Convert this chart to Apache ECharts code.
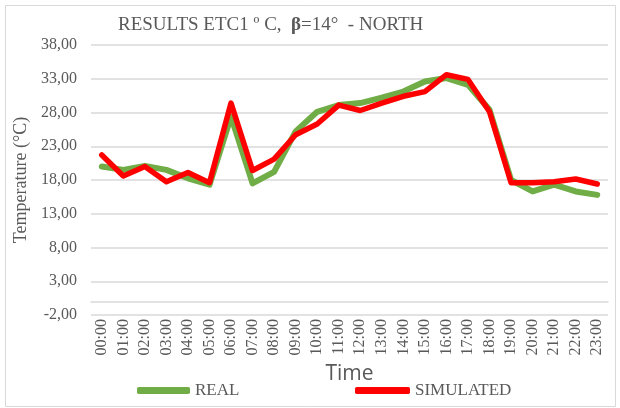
<!DOCTYPE html>
<html>
<head>
<meta charset="utf-8">
<script src="https://cdn.jsdelivr.net/npm/echarts@6/dist/echarts.min.js"></script>
<style>
  html, body { margin: 0; padding: 0; background: #fff; }
  #main { width: 620px; height: 408px; }
</style>
</head>
<body>
<div id="main"></div>
<script>
var hours = ['00:00', '01:00', '02:00', '03:00', '04:00', '05:00', '06:00', '07:00',
  '08:00', '09:00', '10:00', '11:00', '12:00', '13:00', '14:00', '15:00',
  '16:00', '17:00', '18:00', '19:00', '20:00', '21:00', '22:00', '23:00'];
var realTemp = [20.0, 19.5, 20.1, 19.5, 18.25, 17.3, 27.4, 17.5, 19.2, 25.2, 28.1, 29.1,
  29.4, 30.2, 31.1, 32.6, 33.1, 32.1, 28.4, 18.0, 16.3, 17.3, 16.3, 15.8];
var simTemp = [21.7, 18.6, 20.0, 17.75, 19.1, 17.6, 29.4, 19.4, 21.1, 24.7, 26.3, 29.1,
  28.3, 29.4, 30.4, 31.1, 33.6, 32.9, 28.1, 17.6, 17.6, 17.75, 18.15, 17.4];

var chartDom = document.getElementById('main');
var myChart = echarts.init(chartDom);
var serif = '"Liberation Serif", "DejaVu Serif", serif';
var grey = '#595959';
var option;

option = {
    animation: false,
    backgroundColor: '#fff',
    title: {
        text: '{a|RESULTS ETC1 º C,  }{b|β}{a|=14°  - NORTH}',
        left: 113,
        top: 11,
        textStyle: {
            fontWeight: 'normal',
            rich: {
                a: { fontFamily: serif, fontSize: 19, color: grey, fontWeight: 'normal' },
                b: { fontFamily: serif, fontSize: 19, color: grey, fontWeight: 'bold' }
            }
        }
    },
    graphic: [{
        type: 'rect',
        shape: { x: 5.5, y: 5.5, width: 610, height: 401 },
        style: { fill: 'none', stroke: '#d9d9d9', lineWidth: 1 },
        silent: true
    }],
    legend: [{
        data: ['REAL'],
        left: 132,
        top: 377,
        icon: 'roundRect',
        itemWidth: 53,
        itemHeight: 7,
        textStyle: { fontFamily: serif, fontSize: 17, color: grey }
    }, {
        data: ['SIMULATED'],
        left: 350,
        top: 377,
        icon: 'roundRect',
        itemWidth: 55,
        itemHeight: 7,
        textStyle: { fontFamily: serif, fontSize: 17, color: grey }
    }],
    grid: {
        left: 91,
        right: 12,
        top: 45,
        bottom: 93
    },
    xAxis: {
        type: 'category',
        data: hours,
        boundaryGap: true,
        name: 'Time',
        nameLocation: 'middle',
        nameGap: 47,
        nameTextStyle: { fontFamily: '"Open Sans", sans-serif', fontSize: 21, color: grey },
        axisLine: { lineStyle: { color: '#d9d9d9', width: 1.5 } },
        axisTick: { show: false },
        axisLabel: {
            rotate: 90,
            interval: 0,
            margin: 4,
            fontFamily: serif,
            fontSize: 16,
            color: grey
        }
    },
    yAxis: {
        type: 'value',
        min: -2,
        max: 38,
        interval: 5,
        name: 'Temperature (°C)',
        nameLocation: 'middle',
        nameGap: 60,
        nameTextStyle: { fontFamily: serif, fontSize: 18, color: grey },
        axisLine: { show: false },
        axisTick: { show: false },
        splitLine: { lineStyle: { color: '#d9d9d9', width: 1.5 } },
        axisLabel: {
            margin: 14,
            fontFamily: serif,
            fontSize: 16,
            color: grey,
            formatter: function (v) { return v.toFixed(2).replace('.', ','); }
        }
    },
    series: [
        {
            name: 'REAL',
            type: 'line',
            data: realTemp,
            symbol: 'none',
            color: '#70ad47',
            lineStyle: { width: 6, color: '#70ad47', cap: 'round', join: 'round' }
        },
        {
            name: 'SIMULATED',
            type: 'line',
            data: simTemp,
            symbol: 'none',
            color: '#ff0000',
            lineStyle: { width: 5.5, color: '#ff0000', cap: 'round', join: 'round' }
        }
    ]
};

option && myChart.setOption(option);
</script>
</body>
</html>
